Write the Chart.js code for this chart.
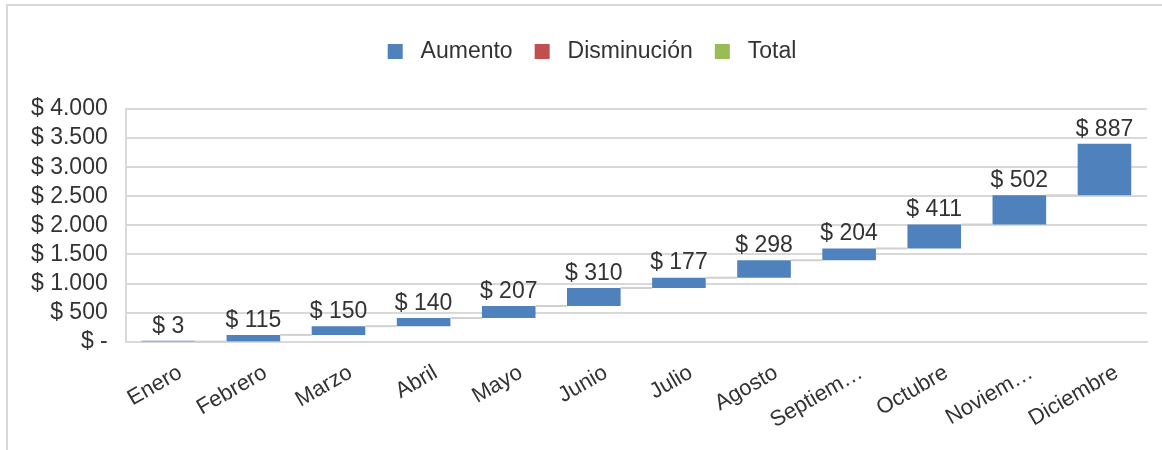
<!DOCTYPE html>
<html>
<head>
<meta charset="utf-8">
<script src="https://cdn.jsdelivr.net/npm/chart.js@4"></script>
<style>
    html, body { margin: 0; padding: 0; background: #fff; overflow: hidden; }
    #wrap { position: relative; width: 1162px; height: 450px; }
    #frame {
        position: absolute; left: 6px; top: 4px; width: 1200px; height: 500px;
        border-top: 2px solid #d9d9d9; border-left: 2px solid #d9d9d9;
        pointer-events: none;
    }
</style>
</head>
<body>
<div id="wrap">
    <canvas id="myChart" width="1162" height="450"></canvas>
    <div id="frame"></div>
</div>
<script>
const months = ['Enero', 'Febrero', 'Marzo', 'Abril', 'Mayo', 'Junio', 'Julio', 'Agosto',
    'Septiembre', 'Octubre', 'Noviembre', 'Diciembre'];
const tickLabels = ['Enero', 'Febrero', 'Marzo', 'Abril', 'Mayo', 'Junio', 'Julio', 'Agosto',
    'Septiem…', 'Octubre', 'Noviem…', 'Diciembre'];
const aumento = [3, 115, 150, 140, 207, 310, 177, 298, 204, 411, 502, 887];
const disminucion = [];
const total = [];
const yTicks = [0, 500, 1000, 1500, 2000, 2500, 3000, 3500, 4000];

// running totals -> floating bars
const ranges = [];
let run = 0;
for (const v of aumento) {
    ranges.push([run, run + v]);
    run += v;
}

const fmt = v => v === 0 ? '$ -' : '$ ' + v.toLocaleString('de-DE');
const textColor = '#333333';
const font = 'Liberation Sans, Arial, sans-serif';

// grey connector lines + value labels
const waterfall = {
    id: 'waterfall',
    afterDatasetsDraw(chart) {
        const ctx = chart.ctx;
        const meta = chart.getDatasetMeta(0);
        const y = chart.scales.y;
        ctx.save();
        ctx.strokeStyle = '#d0d0d0';
        ctx.lineWidth = 2;
        for (let i = 0; i < meta.data.length - 1; i++) {
            const a = meta.data[i], b = meta.data[i + 1];
            const py = y.getPixelForValue(ranges[i][1]);
            ctx.beginPath();
            ctx.moveTo(a.x + a.width / 2, py);
            ctx.lineTo(b.x - b.width / 2, py);
            ctx.stroke();
        }
        ctx.fillStyle = textColor;
        ctx.font = '23px ' + font;
        ctx.textAlign = 'center';
        ctx.textBaseline = 'bottom';
        meta.data.forEach((bar, i) => {
            ctx.fillText(fmt(aumento[i]), bar.x, y.getPixelForValue(ranges[i][1]) - 3);
        });
        ctx.restore();
    }
};

// extra room under the legend, and nudge it right like the original
const legendGap = {
    id: 'legendGap',
    beforeInit(chart) {
        const fit = chart.legend.fit;
        chart.legend.fit = function () {
            fit.bind(chart.legend)();
            this.height += 36;
        };
    },
    afterLayout(chart) {
        chart.legend.left += 12;
        chart.legend.right += 12;
    }
};

new Chart(document.getElementById('myChart'), {
    type: 'bar',
    data: {
        labels: months,
        datasets: [
            { label: 'Aumento', data: ranges, backgroundColor: '#4F81BD', grouped: false,
              barPercentage: 0.63, categoryPercentage: 1 },
            { label: 'Disminución', data: disminucion, backgroundColor: '#C0504D', grouped: false },
            { label: 'Total', data: total, backgroundColor: '#9BBB59', grouped: false }
        ]
    },
    options: {
        responsive: false,
        animation: false,
        layout: { padding: { top: 18, left: 13, right: 15, bottom: 6 } },
        plugins: {
            tooltip: { enabled: false },
            legend: {
                position: 'top',
                labels: {
                    color: textColor,
                    font: { family: font, size: 23 },
                    boxWidth: 15,
                    boxHeight: 15,
                    padding: 22,
                    generateLabels(chart) {
                        const items = Chart.defaults.plugins.legend.labels.generateLabels(chart);
                        items.forEach(it => { it.text = ' ' + it.text; });
                        return items;
                    }
                }
            }
        },
        scales: {
            x: {
                grid: { display: false },
                border: { color: '#d9d9d9', width: 2 },
                ticks: {
                    color: textColor,
                    font: { family: font, size: 22 },
                    minRotation: 30,
                    maxRotation: 30,
                    autoSkip: false,
                    padding: 10,
                    labelOffset: 12,
                    callback: (v, i) => tickLabels[i]
                }
            },
            y: {
                min: 0,
                max: 4000,
                afterBuildTicks: s => { s.ticks = yTicks.map(v => ({ value: v })); },
                grid: { color: '#d9d9d9', lineWidth: 2, drawTicks: false },
                border: { color: '#d9d9d9', width: 2 },
                ticks: {
                    color: textColor,
                    font: { family: font, size: 23 },
                    padding: 18,
                    autoSkip: false,
                    callback: v => fmt(v)
                }
            }
        }
    },
    plugins: [waterfall, legendGap]
});
</script>
</body>
</html>
